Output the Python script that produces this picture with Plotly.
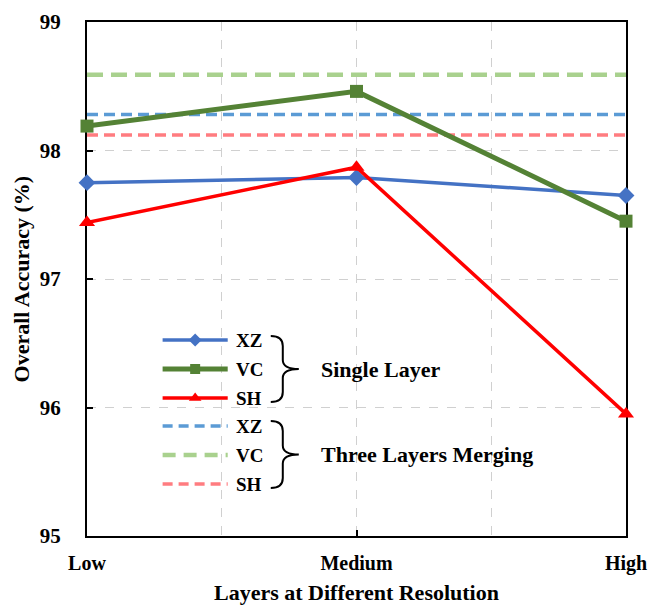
import plotly.graph_objects as go

categories = ["Low", "Medium", "High"]
single_xz = [97.75, 97.79, 97.65]
single_vc = [98.19, 98.46, 97.45]
single_sh = [97.44, 97.87, 95.95]
merged_xz = 98.28
merged_vc = 98.59
merged_sh = 98.12
y_ticks = [95, 96, 97, 98, 99]

FONT = "Liberation Serif"
C_XZ, C_VC, C_SH = "#4472C4", "#548235", "#FF0000"
C_MXZ, C_MVC, C_MSH = "#5B9BD5", "#A9D18E", "#FF7C80"

X0, X1, Y0, Y1 = 87.5, 625.7, 536, 22   # plot area in pixels

xs = list(range(len(categories)))
xend = [xs[0], xs[-1]]

fig = go.Figure()
fig.add_trace(go.Scatter(x=xend, y=[merged_vc] * 2, mode="lines",
                         line=dict(color=C_MVC, width=4.5, dash="16px,8px"), showlegend=False))
fig.add_trace(go.Scatter(x=xend, y=[merged_xz] * 2, mode="lines",
                         line=dict(color=C_MXZ, width=3.5, dash="11px,6px"), showlegend=False))
fig.add_trace(go.Scatter(x=xend, y=[merged_sh] * 2, mode="lines",
                         line=dict(color=C_MSH, width=3.5, dash="11px,6px"), showlegend=False))
fig.add_trace(go.Scatter(x=xs, y=single_xz, mode="lines+markers", cliponaxis=False,
                         line=dict(color=C_XZ, width=3.5),
                         marker=dict(symbol="diamond", size=13, color=C_XZ), showlegend=False))
fig.add_trace(go.Scatter(x=xs, y=single_vc, mode="lines+markers", cliponaxis=False,
                         line=dict(color=C_VC, width=5),
                         marker=dict(symbol="square", size=13, color=C_VC), showlegend=False))
fig.add_trace(go.Scatter(x=xs, y=single_sh, mode="lines+markers", cliponaxis=False,
                         line=dict(color=C_SH, width=3.5),
                         marker=dict(symbol="triangle-up", size=14, color=C_SH), showlegend=False))

leg_rows = [
    ("XZ", C_XZ, 3.5, "solid", "diamond", 10, 340),
    ("VC", C_VC, 5, "solid", "square", 10, 369),
    ("SH", C_SH, 3.5, "solid", "triangle-up", 11, 398),
    ("XZ", C_MXZ, 3.5, "10px,6px", None, 0, 426),
    ("VC", C_MVC, 4.5, "13px,8px", None, 0, 455),
    ("SH", C_MSH, 3.5, "10px,6px", None, 0, 484),
]
for name, col, w, dash, sym, sz, py in leg_rows:
    fig.add_trace(go.Scatter(x=[163, 228], y=[py, py], mode="lines", xaxis="x2", yaxis="y2",
                             line=dict(color=col, width=w, dash=dash), showlegend=False,
                             hoverinfo="skip"))
    if sym:
        fig.add_trace(go.Scatter(x=[195.5], y=[py], mode="markers", xaxis="x2", yaxis="y2",
                                 marker=dict(symbol=sym, size=sz, color=col), showlegend=False,
                                 hoverinfo="skip"))
    fig.add_annotation(x=234, y=py, xref="x2", yref="y2", text="<b>%s</b>" % name,
                       showarrow=False, xanchor="left", yanchor="middle",
                       font=dict(family=FONT, size=19, color="black"))

def brace(y0, y1, x0=271, xm=283, xt=299):
    yc = (y0 + y1) / 2
    return (f"M{x0},{y0} Q{xm},{y0} {xm},{y0+10} L{xm},{yc-9} Q{xm},{yc} {xt},{yc} "
            f"Q{xm},{yc} {xm},{yc+9} L{xm},{y1-10} Q{xm},{y1} {x0},{y1}")

for (y0, y1, label) in [(336, 402, "Single Layer"), (421, 488, "Three Layers Merging")]:
    fig.add_shape(type="path", path=brace(y0, y1), xref="x2", yref="y2",
                  line=dict(color="black", width=2))
    fig.add_annotation(x=319, y=(y0 + y1) / 2, xref="x2", yref="y2", text="<b>%s</b>" % label,
                       showarrow=False, xanchor="left", yanchor="middle",
                       font=dict(family=FONT, size=22, color="black"))

# y-axis title as annotation
fig.add_annotation(x=(22 - X0) / (X1 - X0), y=0.5, xref="paper", yref="paper",
                   xanchor="center", yanchor="middle",
                   text="<b>Overall Accuracy (%)</b>", textangle=-90, showarrow=False,
                   font=dict(family=FONT, size=22, color="black"))

fig.update_layout(
    width=649, height=605,
    margin=dict(l=87, r=23, t=22, b=69, autoexpand=False),
    plot_bgcolor="white", paper_bgcolor="white",
    font=dict(family=FONT, size=20, color="black"),
    xaxis=dict(range=[xs[0], xs[-1]], tickvals=xs, ticktext=["<b>%s</b>" % c for c in categories],
               showgrid=True, gridcolor="#D0D0D0", griddash="dash", gridwidth=1,
               minor=dict(dtick=0.5, showgrid=True, gridcolor="#D0D0D0", griddash="dash"),
               ticks="inside", ticklen=6, tickcolor="black", tickwidth=1.5,
               showline=True, linecolor="black", linewidth=2, mirror=True,
               zeroline=False, ticklabelstandoff=8, ticklabeloverflow="allow",
               layer="below traces",
               tickfont=dict(family=FONT, size=20),
               title=dict(text="<b>Layers at Different Resolution</b>", standoff=13,
                          font=dict(family=FONT, size=22))),
    yaxis=dict(range=[y_ticks[0], y_ticks[-1]], tickvals=y_ticks,
               ticktext=["<b>%d</b>" % v for v in y_ticks],
               showgrid=True, gridcolor="#D0D0D0", griddash="dash", gridwidth=1,
               ticks="inside", ticklen=6, tickcolor="black", tickwidth=1.5,
               showline=True, linecolor="black", linewidth=2, mirror=True,
               zeroline=False, ticklabelstandoff=20, ticklabeloverflow="allow",
               layer="below traces",
               tickfont=dict(family=FONT, size=21)),
    xaxis2=dict(range=[X0, X1], overlaying="x", visible=False, fixedrange=True),
    yaxis2=dict(range=[Y0, Y1], overlaying="y", visible=False, fixedrange=True),
)

fig.write_html("out.html", config={"displayModeBar": False},
               post_script="document.body.style.margin='0';")
